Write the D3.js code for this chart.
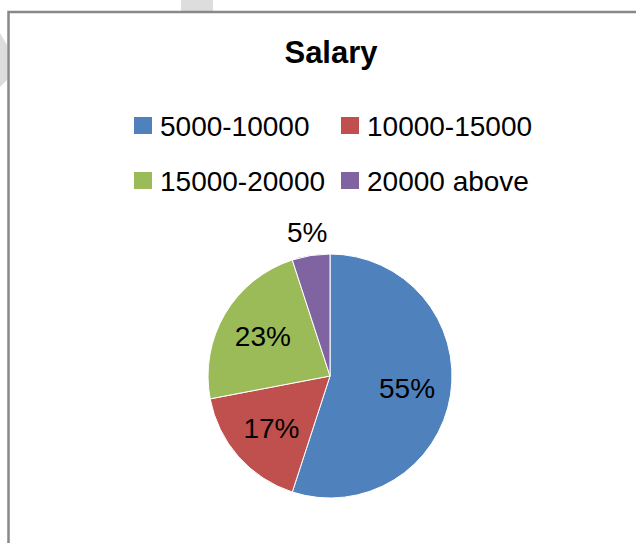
<!DOCTYPE html>
<html>
<head>
<meta charset="utf-8">
<script src="https://cdn.jsdelivr.net/npm/d3@7"></script>
<style>
  body { margin: 0; background: #fff; }
  svg { display: block; }
</style>
</head>
<body>
<div id="chart"></div>
<script>
// chart data
var title = "Salary";
var categories = ["5000-10000", "10000-15000", "15000-20000", "20000 above"];
var values = [55, 17, 23, 5];
var colors = ["#4F81BD", "#C0504D", "#9BBB59", "#8064A2"];

var width = 636, height = 543;

var svg = d3.select("#chart")
            .append("svg")
            .attr("width", width)
            .attr("height", height);

// faint page watermark bits behind the chart
svg.append("rect")
   .attr("x", 181).attr("y", 0)
   .attr("width", 32).attr("height", 11)
   .style("fill", "#dddddd");
svg.append("path")
   .attr("d", "M0,33 L7,45 L7,80 L0,87 Z")
   .style("fill", "#dddddd");

// chart frame (runs off the right and bottom edge)
svg.append("rect")
   .attr("x", 8.5).attr("y", 12)
   .attr("width", 700).attr("height", 600)
   .style("fill", "#fff")
   .style("stroke", "#888888")
   .style("stroke-width", 2.5);

var font = "'Liberation Sans', Arial, sans-serif";

// title
svg.append("text")
   .attr("x", 331)
   .attr("y", 63)
   .style("text-anchor", "middle")
   .style("font-family", font)
   .style("font-weight", "bold")
   .style("font-size", "31px")
   .text(title);

// legend, 2 columns
var legendCols = d3.scaleOrdinal().domain([0, 1]).range([134, 341]);
var legendRows = d3.scaleOrdinal().domain([0, 1]).range([125.5, 180.5]);

var legend = svg.append("g")
  .selectAll("g")
  .data(categories)
  .enter()
  .append("g")
    .attr("transform", function(d, i) {
      return "translate(" + legendCols(i % 2) + "," + legendRows(Math.floor(i / 2)) + ")";
    });

legend.append("rect")
  .attr("x", 0)
  .attr("y", -8.5)
  .attr("width", 18)
  .attr("height", 17)
  .style("fill", function(d, i) { return colors[i]; });

legend.append("text")
  .attr("x", 26)
  .attr("y", 10)
  .style("font-family", font)
  .style("font-size", "28px")
  .style("fill", "#000")
  .text(function(d) { return d; });

// pie
var cx = 330, cy = 376, radius = 122;

var pie = d3.pie().sort(null).value(function(d) { return d; });
var arcs = pie(values);
var total = d3.sum(values);

var arc = d3.arc().innerRadius(0).outerRadius(radius);
var inLabel = d3.arc().innerRadius(78).outerRadius(78);
var outLabel = d3.arc().innerRadius(146).outerRadius(146);

var g = svg.append("g")
  .attr("transform", "translate(" + cx + "," + cy + ")");

g.selectAll("path")
  .data(arcs)
  .enter()
  .append("path")
    .attr("d", arc)
    .style("fill", function(d, i) { return colors[i]; })
    .style("stroke", "#fff")
    .style("stroke-width", 1);

g.selectAll("text")
  .data(arcs)
  .enter()
  .append("text")
    .attr("transform", function(d) {
      var c = (d.value / total < 0.1) ? outLabel.centroid(d) : inLabel.centroid(d);
      return "translate(" + c[0] + "," + c[1] + ")";
    })
    .attr("dy", "0.36em")
    .style("text-anchor", "middle")
    .style("font-family", font)
    .style("font-size", "28px")
    .style("fill", "#000")
    .text(function(d) { return Math.round(d.value / total * 100) + "%"; });
</script>
</body>
</html>
